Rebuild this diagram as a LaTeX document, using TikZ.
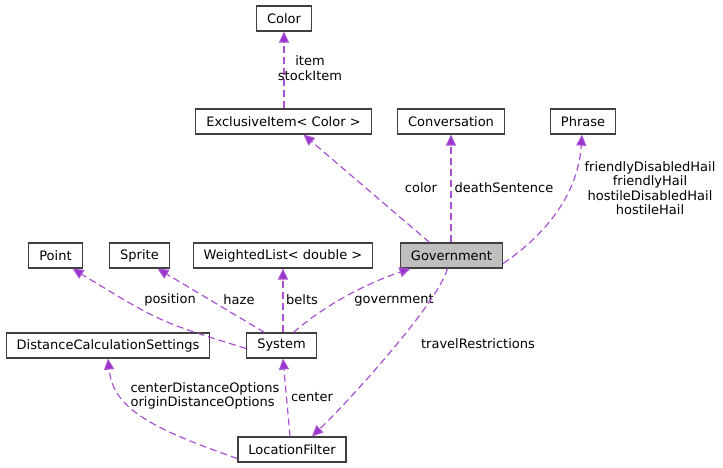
\documentclass[tikz,border=0pt]{standalone}
\usepackage{fontspec}
\setmainfont{DejaVu Sans}
\usepackage{tikz}
\usetikzlibrary{arrows.meta}
\definecolor{edgepurple}{HTML}{9A32CD}
\definecolor{boxline}{HTML}{404040}
\tikzset{
  classbox/.style={draw=boxline, line width=1.2pt, rectangle, minimum height=25pt, inner xsep=10.5pt, inner ysep=0pt, fill=white},
  mainbox/.style={classbox, fill=black!25},
  usage/.style={draw=edgepurple!85, line width=1.2pt, dash pattern=on 7pt off 4pt, -{Triangle[length=11pt,width=10pt,fill=edgepurple]}},
  edgelabel/.style={align=center, inner sep=0pt, font=\fontsize{13}{14.5}\selectfont}
}
\begin{document}
\begin{tikzpicture}[x=1pt, y=-1pt, font=\fontsize{13}{14.5}\selectfont]
\useasboundingbox (0,0) rectangle (723,468);
% top row
\node[classbox] (color) at (284,18.5) {Color};
\node[classbox] (excl) at (283.5,121.5) {ExclusiveItem< Color >};
\node[classbox] (conv) at (451,121.5) {Conversation};
\node[classbox] (phrase) at (583,121.5) {Phrase};
% middle row
\node[mainbox] (gov) at (451.5,255.5) {Government};
\node[classbox] (point) at (55.5,255.5) {Point};
\node[classbox] (sprite) at (139.5,255.5) {Sprite};
\node[classbox] (wlist) at (283,255.5) {WeightedList< double >};
% lower rows
\node[classbox] (dist) at (108,345.5) {DistanceCalculationSettings};
\node[classbox] (sys) at (281.5,345.5) {System};
\node[classbox] (loc) at (292,449.5) {LocationFilter};

% Government members
\draw[usage] (excl.north -| color) -- (color.south);
\node[edgelabel] (lblitem) at (310,68) {item\\stockItem};
\draw[usage] ([xshift=-22pt]gov.north) -- ([xshift=20pt]excl.south);
\node[edgelabel] (lblcolor) at (421,188) {color};
\draw[usage] (gov.north -| conv) -- (conv.south);
\node[edgelabel] (lbldeath) at (504,188) {deathSentence};
\draw[usage] ([yshift=-8pt]gov.east) .. controls (545,235) and (578,195) .. ([xshift=-1pt]phrase.south);
\node[edgelabel] (lblhail) at (650,188) {friendlyDisabledHail\\friendlyHail\\hostileDisabledHail\\hostileHail};

% System members
\draw[usage] ([yshift=-3pt]sys.west) .. controls (160,322) .. ([xshift=17pt]point.south);
\node[edgelabel] (lblpos) at (170,300) {position};
\draw[usage] ([xshift=-17pt]sys.north) -- ([xshift=18pt]sprite.south);
\node[edgelabel] (lblhaze) at (239,300) {haze};
\draw[usage] (sys.north -| wlist) -- (wlist.south);
\node[edgelabel] (lblbelts) at (302,300) {belts};
\draw[usage] ([xshift=12pt]sys.north) .. controls (325,305) and (365,284) .. ([xshift=-41pt]gov.south);
\node[edgelabel] (lblgov) at (394,300) {government};

% LocationFilter members
\draw[usage] ([yshift=-9pt]loc.west) .. controls (150,428) and (113,408) .. (dist.south);
\node[edgelabel, align=left] (lbldist) at (205,396) {centerDistanceOptions\\originDistanceOptions};
\draw[usage] ([xshift=-2pt]loc.north) -- ([xshift=1.5pt]sys.south);
\node[edgelabel] (lblcenter) at (312,397) {center};
\draw[usage] ([xshift=-4pt]gov.south) .. controls (437,305) and (345,405) .. ([xshift=20pt]loc.north);
\node[edgelabel] (lbltravel) at (478,344) {travelRestrictions};
\end{tikzpicture}
\end{document}
